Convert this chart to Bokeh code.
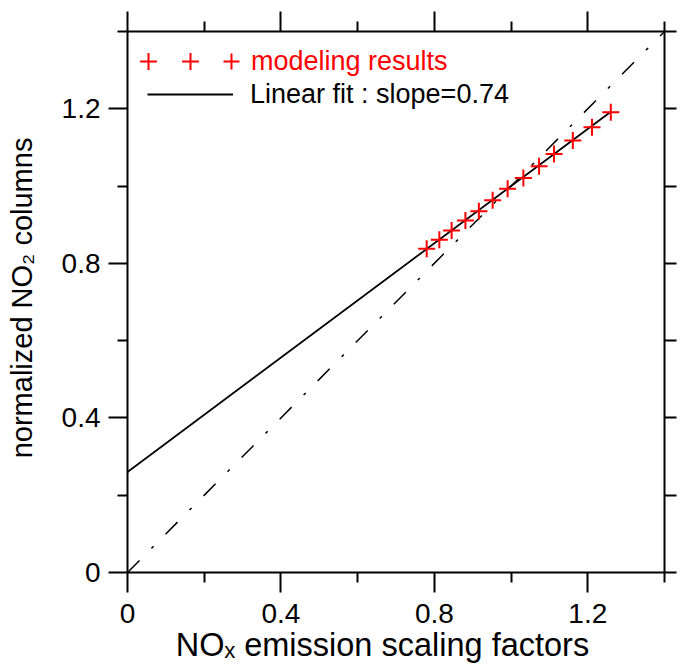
from bokeh.plotting import figure
from bokeh.models import (Range1d, FixedTicker, LinearAxis, Legend, LegendItem,
                          CustomLabelingPolicy)
from bokeh.embed import file_html
from bokeh.resources import INLINE
from bokeh.core.properties import value

# ---- data ----
scaling_factor = [0.78, 0.813, 0.845, 0.881, 0.916, 0.952, 0.991, 1.032, 1.073, 1.112, 1.161, 1.211, 1.26]
normalized_no2 = [0.838, 0.861, 0.885, 0.911, 0.935, 0.963, 0.993, 1.021, 1.051, 1.083, 1.118, 1.152, 1.191]
fit_slope = 0.74
fit_intercept = 0.26
fit_x = [0.0, 1.26]
one_to_one = [0.0, 1.4]
major_ticks = [0, 0.4, 0.8, 1.2]
minor_ticks = [0.2, 0.6, 1.0, 1.4]
tick_overrides = {0: "0"}

FONT = "Liberation Sans"
NBSP = "\u00a0"

p = figure(width=680, height=666,
           x_range=Range1d(0, 1.4), y_range=Range1d(0, 1.4),
           output_backend="svg", toolbar_location=None,
           x_axis_location=None, y_axis_location=None,
           min_border_left=127, min_border_right=12,
           min_border_top=31, min_border_bottom=94)
p.outline_line_color = None
p.background_fill_color = "white"
p.border_fill_color = "white"
p.xgrid.visible = False
p.ygrid.visible = False

no_labels = CustomLabelingPolicy(code="return []")


def make_axis(tick_out, minor_out, show_labels, standoff, **kw):
    ax = LinearAxis(ticker=FixedTicker(ticks=major_ticks, minor_ticks=minor_ticks), **kw)
    ax.axis_line_color = "black"
    ax.axis_line_width = 2
    ax.major_tick_line_color = "black"
    ax.major_tick_line_width = 2
    ax.minor_tick_line_color = "black"
    ax.minor_tick_line_width = 2
    ax.major_tick_in = 0
    ax.major_tick_out = tick_out
    ax.minor_tick_in = 0
    ax.minor_tick_out = minor_out
    ax.major_label_standoff = standoff
    ax.major_label_text_font = FONT
    ax.major_label_text_color = "black"
    ax.major_label_overrides = tick_overrides
    if show_labels:
        ax.major_label_text_font_size = "28px"
    else:
        ax.major_label_text_font_size = "1px"
        ax.major_label_policy = no_labels
    ax.axis_label_text_font = FONT
    ax.axis_label_text_font_style = "normal"
    ax.axis_label_text_color = "black"
    return ax


bottom = make_axis(20, 10, True, 11, axis_label="NOₓ emission scaling factors" + NBSP * 3)
bottom.axis_label_text_font_size = "32.5px"
bottom.axis_label_standoff = 1
left = make_axis(19, 10, True, 8, axis_label=NBSP + "normalized NO₂ columns")
left.axis_label_text_font_size = "29px"
left.axis_label_standoff = 21
top = make_axis(20, 10, False, 0)
right = make_axis(12, 12, False, 0)

p.add_layout(bottom, "below")
p.add_layout(left, "left")
p.add_layout(top, "above")
p.add_layout(right, "right")

# 1:1 reference line (dash-dot)
p.line(one_to_one, one_to_one, line_color="black", line_width=1.5, line_dash="17 17 3 17")

# linear fit
fit_y = [fit_intercept + fit_slope * x for x in fit_x]
fit_r = p.line(fit_x, fit_y, line_color="black", line_width=1.8)

# modeling results
sc = p.scatter(scaling_factor, normalized_no2, marker="cross", size=17,
               line_color="red", line_width=2)


def legend(items, loc, **kw):
    lg = Legend(items=items, location=loc, padding=0, margin=0, spacing=0,
                border_line_color=None, background_fill_alpha=0,
                label_text_font=FONT, label_text_font_size="27px",
                glyph_width=42, glyph_height=42, label_standoff=0)
    for k, v in kw.items():
        setattr(lg, k, v)
    return lg


p.add_layout(legend([LegendItem(label=value(""), renderers=[sc])], (0, 490)), "center")
p.add_layout(legend([LegendItem(label=value(""), renderers=[sc])], (42, 490)), "center")
p.add_layout(legend([LegendItem(label=value("modeling results"), renderers=[sc])], (84, 490),
                    glyph_width=40, label_text_color="red"), "center")
p.add_layout(legend([LegendItem(label=value("Linear fit : slope=0.74"), renderers=[fit_r])], (20, 462),
                    glyph_width=86, glyph_height=32, label_standoff=17,
                    label_text_color="black"), "center")

open("out.html", "w").write(file_html(p, INLINE))
